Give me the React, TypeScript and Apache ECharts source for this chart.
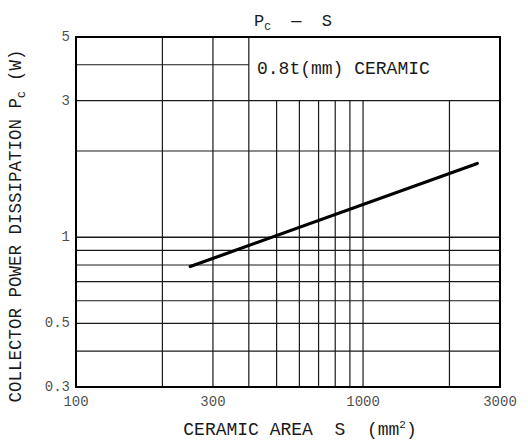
import React, { useEffect, useRef } from "react";
import * as echarts from "echarts";

// Data
const ceramicArea = [250, 2500]; // S (mm^2)
const powerDissipation = [0.79, 1.81]; // Pc (W)

const xTickLabels = [100, 300, 1000, 3000];
const yTickLabels = [5, 3, 1, 0.5, 0.3];

const xFullGrid = [200, 300, 400];
const xPartialGrid = [500, 600, 700, 800, 900, 1000, 2000];
const yFullGrid = [0.4, 0.5, 0.6, 0.7, 0.8, 0.9, 1, 2, 3];
const yPartialGrid = [4];

const X_MIN = 100;
const X_MAX = 3000;
const Y_MIN = 0.3;
const Y_MAX = 5;
const Y_BOX = 3;
const X_BOX = 400;

const FONT = "Liberation Mono";
const INK = "#1a1a1a";

export default function App() {
  const ref = useRef<HTMLDivElement>(null);
  useEffect(() => {
    if (!ref.current) return;
    const chart = echarts.init(ref.current, undefined, { renderer: "svg" });

    const gridSeries: any[] = [];
    const addLine = (pts: number[][], w = 1.2) =>
      gridSeries.push({
        type: "line",
        data: pts,
        symbol: "none",
        silent: true,
        lineStyle: { color: INK, width: w },
        z: 1,
      });
    xFullGrid.forEach((x) => addLine([[x, Y_MIN], [x, Y_MAX]]));
    xPartialGrid.forEach((x) => addLine([[x, Y_MIN], [x, Y_BOX]]));
    yFullGrid.forEach((y) => addLine([[X_MIN, y], [X_MAX, y]], y === 1 ? 1.6 : 1.2));
    yPartialGrid.forEach((y) => addLine([[X_MIN, y], [X_BOX, y]]));

    const mkRich = (size: number) => ({
      p: { fontFamily: FONT, fontSize: size, fontWeight: "normal" as const, color: INK, lineHeight: 22, verticalAlign: "middle" as const },
      s: { fontFamily: FONT, fontSize: 11, fontWeight: "normal" as const, color: INK, lineHeight: 14, verticalAlign: "bottom" as const },
      sup: { fontFamily: FONT, fontSize: 11, fontWeight: "normal" as const, color: INK, lineHeight: 14, verticalAlign: "top" as const },
    });

    chart.setOption({
      animation: false,
      backgroundColor: "#fff",
      title: {
        text: "{p|P}{s|C}{p|  —  S}",
        left: 249,
        top: 5,
        textStyle: { fontWeight: "normal", rich: mkRich(17) },
      },
      grid: {
        left: 76,
        right: 28,
        top: 37,
        bottom: 53,
        outerBoundsMode: "none",
        containLabel: false,
        show: true,
        borderColor: "#000",
        borderWidth: 2,
        backgroundColor: "transparent",
        z: 3,
      },
      xAxis: {
        type: "log",
        logBase: 10,
        min: X_MIN,
        max: X_MAX,
        axisLine: { show: false },
        axisTick: { show: false },
        axisLabel: { show: false },
        splitLine: { show: false },
        name: "{p|CERAMIC AREA  S  (mm}{sup|2}{p|)}",
        nameLocation: "middle",
        nameGap: 32,
        nameTextStyle: {
          padding: [0, 0, 0, 24],
          rich: mkRich(18),
        },
      },
      yAxis: {
        type: "log",
        logBase: 10,
        min: Y_MIN,
        max: Y_MAX,
        axisLine: { show: false },
        axisTick: { show: false },
        axisLabel: { show: false },
        splitLine: { show: false },
        name: "{p|COLLECTOR POWER DISSIPATION P}{s|C}{p| (W)}",
        nameLocation: "middle",
        nameGap: 49,
        nameRotate: 90,
        nameTextStyle: { padding: [0, 28, 0, 0], rich: mkRich(17.5) },
      },
      graphic: [
        {
          type: "text",
          left: 257,
          top: 60,
          style: {
            text: "0.8t(mm) CERAMIC",
            font: `18px "${FONT}"`,
            fill: INK,
          },
          z: 10,
        },
      ],
      series: [
        ...gridSeries,
        {
          type: "line",
          data: ceramicArea.map((x, i) => [x, powerDissipation[i]]),
          symbol: "none",
          lineStyle: { color: "#000", width: 3.2, cap: "round" },
          z: 5,
        },
        {
          type: "scatter",
          data: xTickLabels.map((x) => [x, Y_MIN]),
          symbolSize: 0,
          silent: true,
          label: {
            show: true,
            position: "bottom",
            distance: 8,
            formatter: (p: any) => String(p.value[0]),
            fontFamily: FONT,
            fontSize: 14,
            color: INK,
          },
        },
        {
          type: "scatter",
          data: yTickLabels.map((y) => [X_MIN, y]),
          symbolSize: 0,
          silent: true,
          label: {
            show: true,
            position: "left",
            distance: 6,
            formatter: (p: any) => String(p.value[1]),
            fontFamily: FONT,
            fontSize: 14,
            color: INK,
          },
        },
      ],
    });
    return () => chart.dispose();
  }, []);
  return (
    <div
      ref={ref}
      style={{ position: "fixed", left: 0, top: 0, width: 528, height: 440 }}
    />
  );
}
